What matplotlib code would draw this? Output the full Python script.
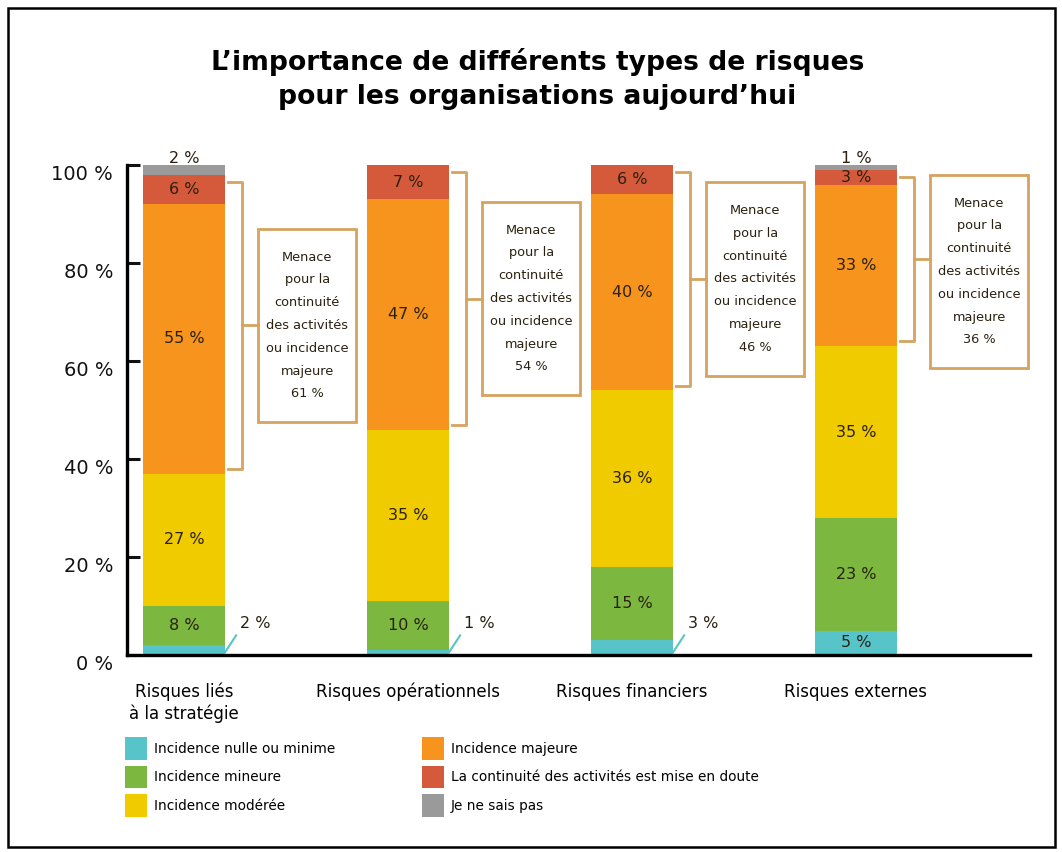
import numpy as np
import matplotlib.pyplot as plt
import matplotlib.transforms as mtransforms
from matplotlib.patches import Rectangle, Patch

categories = ['Risques liés\nà la stratégie', 'Risques opérationnels',
              'Risques financiers', 'Risques externes']
series_names = ['Incidence nulle ou minime', 'Incidence mineure', 'Incidence modérée',
                'Incidence majeure', 'La continuité des activités est mise en doute',
                'Je ne sais pas']
nulle = [2, 1, 3, 5]
mineure = [8, 10, 15, 23]
moderee = [27, 35, 36, 35]
majeure = [55, 47, 40, 33]
continuite = [6, 7, 6, 3]
ne_sais_pas = [2, 0, 0, 1]
menace = [61, 54, 46, 36]

colors = ['#56c4c8', '#7cb83f', '#f0cb00', '#f7941d', '#d55a3b', '#9a9a9a']
tan = '#d6a25e'
txt = '#2a2010'

plt.rcParams['font.family'] = ['DejaVu Sans']

fig = plt.figure(figsize=(10.62, 8.52), dpi=100)
ax = fig.add_axes([127 / 1062, 1 - 655 / 852, (1030 - 127) / 1062, (655 - 165) / 852])

x = np.arange(len(categories))
w = 0.366
series = [nulle, mineure, moderee, majeure, continuite, ne_sais_pas]
bottom = np.zeros(len(categories))
for s, vals in enumerate(series):
    vals = np.array(vals, dtype=float)
    ax.bar(x, vals, w, bottom=bottom, color=colors[s], linewidth=0, clip_on=False)
    for i, v in enumerate(vals):
        if v == 0:
            continue
        if s == 5:
            ax.text(x[i], 101.3, f'{int(v)} %', ha='center', va='center',
                    fontsize=11.5, color=txt, clip_on=False)
        elif s == 0 and v <= 3:
            r = x[i] + w / 2
            ax.plot([r, r + 0.05], [0.5, 4], color=colors[0], lw=1.5)
            ax.text(x[i] + 0.32, 6.5, f'{int(v)} %', ha='center', va='center',
                    fontsize=11.5, color=txt)
        else:
            ax.text(x[i], bottom[i] + v / 2, f'{int(v)} %', ha='center', va='center',
                    fontsize=11.5, color=txt)
    bottom += vals

# brackets + boxes
box_h = 39.5
for i in range(len(categories)):
    r = x[i] + w / 2
    low = nulle[i] + mineure[i] + moderee[i] + 1
    top = low - 1 + majeure[i] + continuite[i] - 1.5
    mid = (low + top) / 2
    bx = r + 0.076
    ax.plot([r + 0.013, bx, bx, r + 0.013], [top, top, low, low], color=tan, lw=2,
            clip_on=False)
    ax.plot([bx, x[i] + 0.33], [mid, mid], color=tan, lw=2, clip_on=False)
    btop = min(mid + box_h / 2, top + 0.5)
    ax.add_patch(Rectangle((x[i] + 0.33, btop - box_h), 0.44, box_h, facecolor='white',
                           edgecolor=tan, lw=2, clip_on=False))
    ax.text(x[i] + 0.55, btop - box_h / 2,
            f'Menace\npour la\ncontinuité\ndes activités\nou incidence\nmajeure\n{menace[i]} %',
            ha='center', va='center', fontsize=9.3, linespacing=1.98, color=txt)

ax.set_xlim(-0.254, 3.777)
ax.set_ylim(0, 100)
ax.set_yticks([0, 20, 40, 60, 80, 100])
ax.set_yticklabels([f'{t} %' for t in [0, 20, 40, 60, 80, 100]], fontsize=14)
ax.tick_params(axis='y', direction='in', length=9, width=2.2, pad=10, colors='#111111')
shift = mtransforms.ScaledTranslation(0, -7 / 100, fig.dpi_scale_trans)
for lab in ax.get_yticklabels():
    lab.set_transform(lab.get_transform() + shift)
ax.set_xticks(x)
ax.set_xticklabels(categories, fontsize=12, va='top', linespacing=1.2)
ax.tick_params(axis='x', length=0, pad=20)
for side in ['top', 'right']:
    ax.spines[side].set_visible(False)
for side in ['left', 'bottom']:
    ax.spines[side].set_linewidth(2.4)

fig.text(0.506, 0.907, 'L\u2019importance de différents types de risques\npour les organisations aujourd\u2019hui',
         ha='center', va='center', fontsize=19.2, fontweight='bold', linespacing=1.42)

handles = [Patch(facecolor=c, edgecolor='none') for c in colors]
leg_kw = dict(frameon=False, fontsize=9.8, handlelength=1.6, handleheight=2.2,
              handletextpad=0.5, labelspacing=0.42, borderpad=0, borderaxespad=0)
fig.legend(handles[:3], series_names[:3], loc='upper left',
           bbox_to_anchor=(125 / 1062, 1 - 737 / 852), **leg_kw)
fig.legend(handles[3:], series_names[3:], loc='upper left',
           bbox_to_anchor=(422 / 1062, 1 - 737 / 852), **leg_kw)

fig.patches.append(Rectangle((0.008, 0.006), 0.985, 0.985, transform=fig.transFigure,
                             fill=False, edgecolor='black', lw=1.8))

fig.savefig('out.png', dpi=100)
